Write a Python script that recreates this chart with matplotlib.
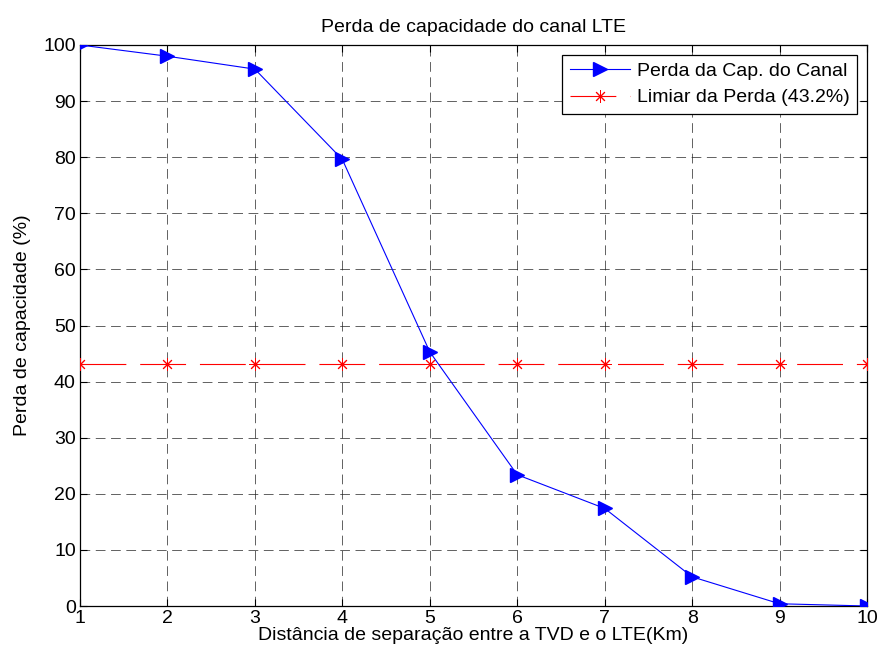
import numpy as np
import matplotlib.pyplot as plt

plt.rcParams['font.family'] = ['Liberation Sans', 'DejaVu Sans']
plt.rcParams['lines.scale_dashes'] = False

# dados
distancia = [1, 2, 3, 4, 5, 6, 7, 8, 9, 10]
perda = [100, 98.0, 95.7, 79.6, 45.3, 23.4, 17.4, 5.2, 0.4, 0.0]
limiar = [43.2] * len(distancia)

fig = plt.figure(figsize=(8.77, 6.55), dpi=100)
ax = fig.add_axes([0.0912, 0.0748, 0.8974, 0.8565])

ax.plot(distancia, perda, color='blue', lw=0.8, marker='>', markersize=10,
        label='Perda da Cap. do Canal', zorder=4)
ax.plot(distancia, limiar, color='red', lw=0.8, linestyle=(0, (33, 10)),
        marker=(8, 2, 0), markersize=9, markeredgewidth=0.7,
        label='Limiar da Perda (43.2%)', zorder=3)

ax.set_xlim(1, 10)
ax.set_ylim(0, 100)
ax.set_xticks(range(1, 11))
ax.set_yticks(range(0, 101, 10))
ax.grid(True, color='#222222', linestyle=(0, (7, 4)), lw=0.5)
ax.tick_params(direction='in', top=True, right=True, labelsize=14, length=5, width=0.8, pad=3)
for s in ax.spines.values():
    s.set_linewidth(0.9)

ax.set_title('Perda de capacidade do canal LTE', fontsize=14, pad=9)
ax.set_xlabel('Distância de separação entre a TVD e o LTE(Km)', fontsize=14, labelpad=0)
ax.set_ylabel('Perda de capacidade (%)', fontsize=14, labelpad=9)

leg = ax.legend(loc='upper right', fontsize=14, fancybox=False, framealpha=1,
                edgecolor='black', borderaxespad=0.5, handlelength=3.1,
                handletextpad=0.35, borderpad=0.4, labelspacing=0.45)
leg.get_frame().set_linewidth(0.9)

fig.savefig('out.png', dpi=100)
